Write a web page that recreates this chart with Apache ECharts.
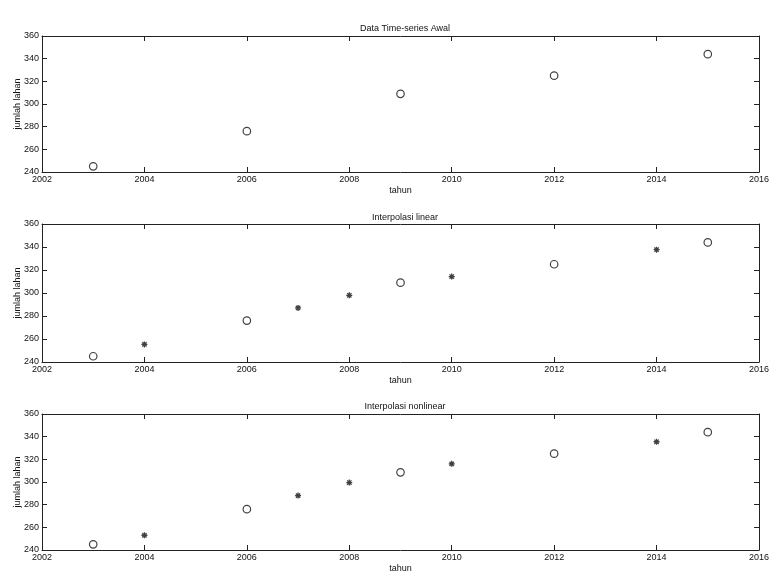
<!DOCTYPE html>
<html><head><meta charset="utf-8">
<script src="https://cdn.jsdelivr.net/npm/echarts@6/dist/echarts.min.js"></script>
<style>html,body{margin:0;padding:0;background:#fff}#c{width:780px;height:579px}</style>
</head><body><div id="c"></div>
<script>
const titles = ['Data Time-series Awal', 'Interpolasi linear', 'Interpolasi nonlinear'];
const xName = 'tahun';
const yName = 'jumlah lahan';
// original data (circles)
const obsYears = [2003, 2006, 2009, 2012, 2015];
const obsValues1 = [245, 276, 309, 325, 344];
const obsValues2 = [245, 276, 309, 325, 344];
const obsValues3 = [245, 276, 308.5, 325, 344];
// interpolated (stars)
const interpYears = [2004, 2007, 2008, 2010, 2014];
const linearValues = [255.3, 287, 298, 314.3, 337.7];
const nonlinearValues = [253, 288, 299.5, 316, 335.5];

const grids = [
  {left: 42, top: 36, width: 717, height: 136, outerBoundsMode: 'none', containLabel: false},
  {left: 42, top: 224, width: 717, height: 138, outerBoundsMode: 'none', containLabel: false},
  {left: 42, top: 414, width: 717, height: 136, outerBoundsMode: 'none', containLabel: false}
];
const titleTops = [19, 208, 397];
const font = 'Liberation Sans, Arial, sans-serif';
const axCol = '#222';
const fs = 9;

const xAxes = [], yAxes = [], series = [], titleArr = [];
const obsSets = [obsValues1, obsValues2, obsValues3];
const starSets = [null, linearValues, nonlinearValues];
const star = 'path://M0,-5L0,5M-5,0L5,0M-3.6,-3.6L3.6,3.6M-3.6,3.6L3.6,-3.6';

grids.forEach((g, i) => {
  titleArr.push({text: titles[i], left: 400, textAlign: 'center', top: titleTops[i],
    textStyle: {fontSize: fs, fontWeight: 'normal', color: '#111', fontFamily: font}});
  const common = {min: 2002, max: 2016, interval: 2, gridIndex: i, type: 'value'};
  xAxes.push(Object.assign({}, common, {position: 'bottom', name: xName, nameLocation: 'middle', nameGap: 14,
    nameMoveOverlap: false,
    nameTextStyle: {fontSize: fs, color: '#111', fontFamily: font},
    axisLine: {show: true, lineStyle: {color: axCol, width: 1}},
    axisTick: {show: true, inside: true, length: 5, lineStyle: {color: axCol}},
    axisLabel: {fontSize: fs, color: '#111', margin: 3, fontFamily: font, formatter: v => String(v)},
    splitLine: {show: false}}));
  xAxes.push(Object.assign({}, common, {position: 'top',
    axisLine: {show: true, lineStyle: {color: axCol, width: 1}},
    axisTick: {show: true, inside: true, length: 5, lineStyle: {color: axCol}},
    axisLabel: {show: false}, splitLine: {show: false}}));
  const yc = {min: 240, max: 360, interval: 20, gridIndex: i, type: 'value'};
  yAxes.push(Object.assign({}, yc, {position: 'left', name: yName, nameLocation: 'middle', nameGap: 20,
    nameMoveOverlap: false,
    nameRotate: 90, nameTextStyle: {fontSize: fs, color: '#111', fontFamily: font},
    axisLine: {show: true, lineStyle: {color: axCol, width: 1}},
    axisTick: {show: true, inside: true, length: 5, lineStyle: {color: axCol}},
    axisLabel: {fontSize: fs, color: '#111', margin: 3, fontFamily: font},
    splitLine: {show: false}}));
  yAxes.push(Object.assign({}, yc, {position: 'right',
    axisLine: {show: true, lineStyle: {color: axCol, width: 1}},
    axisTick: {show: true, inside: true, length: 5, lineStyle: {color: axCol}},
    axisLabel: {show: false}, splitLine: {show: false}}));
  series.push({type: 'scatter', xAxisIndex: i * 2, yAxisIndex: i * 2, symbol: 'circle', symbolSize: 7.5,
    itemStyle: {color: '#fff', borderColor: '#111', borderWidth: 1.2},
    data: obsYears.map((y, k) => [y, obsSets[i][k]]), silent: true});
  if (starSets[i]) {
    series.push({type: 'scatter', xAxisIndex: i * 2, yAxisIndex: i * 2, symbol: star, symbolSize: 6,
      itemStyle: {color: '#111', borderColor: '#111', borderWidth: 1.3},
      data: interpYears.map((y, k) => [y, starSets[i][k]]), silent: true});
  }
});

const chart = echarts.init(document.getElementById('c'), null, {renderer: 'canvas'});
chart.setOption({animation: false, backgroundColor: '#fff', title: titleArr, grid: grids,
  xAxis: xAxes, yAxis: yAxes, series: series});
</script></body></html>
